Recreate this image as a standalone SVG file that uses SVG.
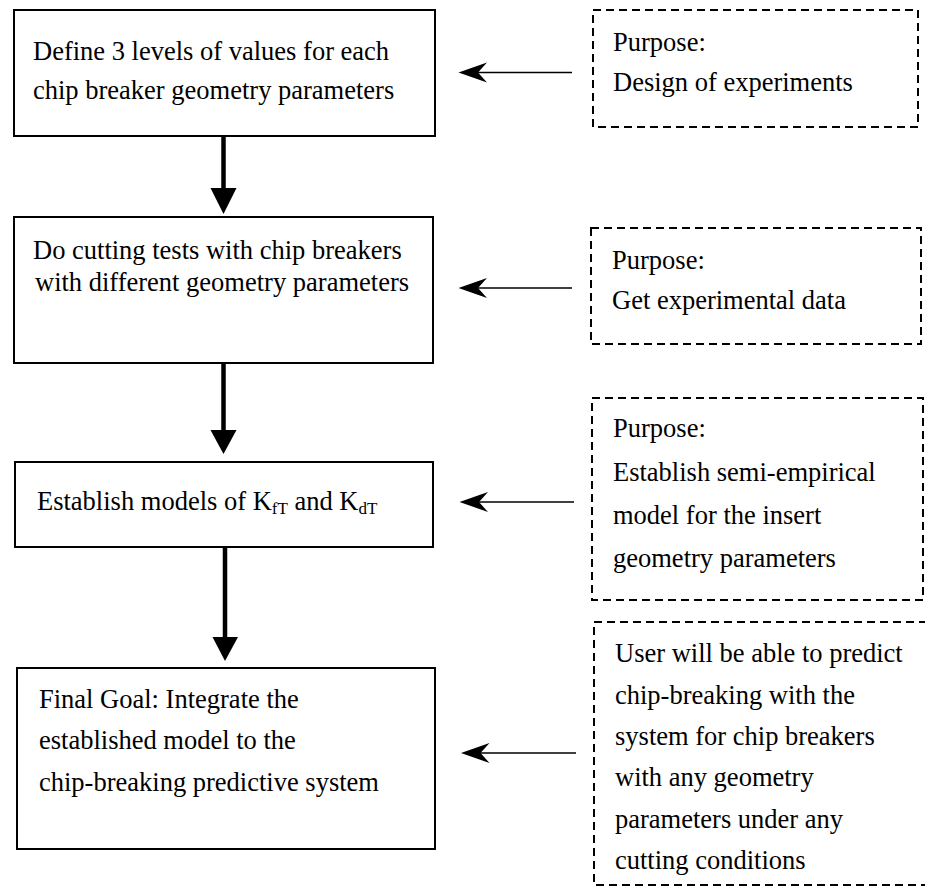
<svg xmlns="http://www.w3.org/2000/svg" width="925" height="888" viewBox="0 0 925 888">
  <style>
    text { font-family: "Liberation Serif", "Times New Roman", serif; font-size: 26.5px; fill: #000; }
    .step { fill: #fff; stroke: #000; stroke-width: 2; }
    .note { fill: none; stroke: #000; stroke-width: 2; stroke-dasharray: 8 5; }
    .flow { stroke: #000; stroke-width: 4.5; fill: none; }
    .link { stroke: #000; stroke-width: 1.4; fill: none; }
    .head { fill: #000; }
    .sub { font-size: 17px; }
  </style>

  <!-- main flow steps -->
  <g id="step-define">
    <rect class="step" x="14" y="10" width="421" height="126"/>
    <text x="33" y="60">Define 3 levels of values for each</text>
    <text x="33" y="99">chip breaker geometry parameters</text>
  </g>

  <g id="step-tests">
    <rect class="step" x="14" y="217" width="419" height="146"/>
    <text x="33" y="259">Do cutting tests with chip breakers</text>
    <text x="35" y="291">with different geometry parameters</text>
  </g>

  <g id="step-models">
    <rect class="step" x="15" y="462" width="418" height="85"/>
    <text x="37" y="510">Establish models of K<tspan class="sub" dy="4">fT</tspan><tspan dy="-4"> and K</tspan><tspan class="sub" dy="4">dT</tspan></text>
  </g>

  <g id="step-goal">
    <rect class="step" x="17" y="668" width="418" height="181"/>
    <text x="39" y="708">Final Goal: Integrate the</text>
    <text x="39" y="749">established model to the</text>
    <text x="39" y="791">chip-breaking predictive system</text>
  </g>

  <!-- purpose notes -->
  <g id="note-design">
    <rect class="note" x="593" y="10" width="325" height="117"/>
    <text x="613" y="51">Purpose:</text>
    <text x="613" y="91">Design of experiments</text>
  </g>

  <g id="note-data">
    <rect class="note" x="591" y="228" width="330" height="116"/>
    <text x="612" y="269">Purpose:</text>
    <text x="612" y="309">Get experimental data</text>
  </g>

  <g id="note-model">
    <rect class="note" x="592" y="398" width="331" height="202"/>
    <text x="613" y="437">Purpose:</text>
    <text x="613" y="481">Establish semi-empirical</text>
    <text x="613" y="524">model for the insert</text>
    <text x="613" y="567">geometry parameters</text>
  </g>

  <g id="note-user">
    <rect class="note" x="594" y="622" width="335" height="263"/>
    <text x="615" y="662">User will be able to predict</text>
    <text x="615" y="704">chip-breaking with the</text>
    <text x="615" y="745">system for chip breakers</text>
    <text x="615" y="786">with any geometry</text>
    <text x="615" y="828">parameters under any</text>
    <text x="615" y="869">cutting conditions</text>
  </g>

  <!-- connectors -->
  <g id="connectors">
    <!-- downward flow arrows -->
    <line class="flow" x1="223.5" y1="137" x2="223.5" y2="190"/>
    <path class="head" d="M210.5,188 L236.5,188 L223.5,214 Z"/>

    <line class="flow" x1="223.5" y1="364" x2="223.5" y2="432"/>
    <path class="head" d="M210.5,430 L236.5,430 L223.5,454 Z"/>

    <line class="flow" x1="225" y1="548" x2="225" y2="639"/>
    <path class="head" d="M212.5,637 L238,637 L225,661 Z"/>

    <!-- note arrows pointing back at the steps -->
    <line class="link" x1="572" y1="72.5" x2="476" y2="72.5"/>
    <path class="head" d="M458.5,72.5 L487,62.5 L478,72.5 L487,82.5 Z"/>

    <line class="link" x1="572" y1="288" x2="476" y2="288"/>
    <path class="head" d="M458.5,288 L487,278 L478,288 L487,298 Z"/>

    <line class="link" x1="574" y1="502" x2="477" y2="502"/>
    <path class="head" d="M459.5,502 L488,492 L479,502 L488,512 Z"/>

    <line class="link" x1="576" y1="753" x2="479" y2="753"/>
    <path class="head" d="M461,753 L489.5,743 L480.5,753 L489.5,763 Z"/>
  </g>
</svg>
